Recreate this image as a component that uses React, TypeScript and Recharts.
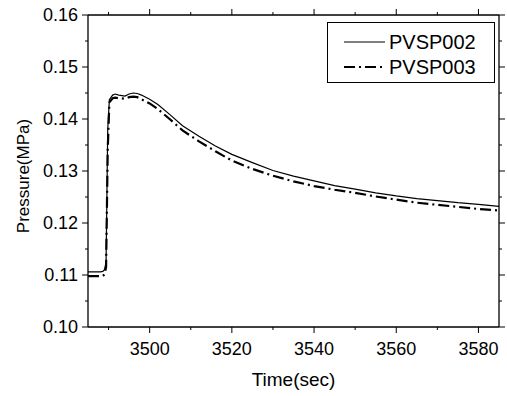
import React from 'react';
import { LineChart, Line, XAxis, YAxis, Legend } from 'recharts';

const seriesNames = ['PVSP002', 'PVSP003'];
const xLabel = 'Time(sec)';
const yLabel = 'Pressure(MPa)';

const times = [3485, 3486, 3487, 3488, 3488.6, 3489, 3489.4, 3489.8, 3490.2, 3491, 3491.6, 3492.5, 3494, 3495, 3496, 3497, 3498, 3500, 3502, 3505, 3508, 3512, 3516, 3520, 3525, 3530, 3535, 3540, 3545, 3550, 3555, 3560, 3565, 3570, 3575, 3580, 3585];
const pvsp002 = [0.1106, 0.1106, 0.1106, 0.1106, 0.1107, 0.1110, 0.1125, 0.1380, 0.1437, 0.1446, 0.1448, 0.1446, 0.1444, 0.1448, 0.1450, 0.1449, 0.1446, 0.1438, 0.1428, 0.1408, 0.1387, 0.1367, 0.1348, 0.1332, 0.1316, 0.1301, 0.1290, 0.1281, 0.1272, 0.1265, 0.1258, 0.1252, 0.1247, 0.1243, 0.1239, 0.1236, 0.1232];
const pvsp003 = [0.1098, 0.1098, 0.1098, 0.1098, 0.1098, 0.1101, 0.1115, 0.1340, 0.1432, 0.1440, 0.1441, 0.1440, 0.1439, 0.1442, 0.1443, 0.1442, 0.1438, 0.1430, 0.1419, 0.1399, 0.1378, 0.1357, 0.1338, 0.1320, 0.1304, 0.1291, 0.1280, 0.1271, 0.1264, 0.1258, 0.1251, 0.1245, 0.1239, 0.1235, 0.1231, 0.1227, 0.1224];

const xTicks = [3490, 3500, 3510, 3520, 3530, 3540, 3550, 3560, 3570, 3580];
const yTicks = [0.1, 0.105, 0.11, 0.115, 0.12, 0.125, 0.13, 0.135, 0.14, 0.145, 0.15, 0.155, 0.16];

const data = times.map((t, i) => ({ t, a: pvsp002[i], b: pvsp003[i] }));

const FONT = 'Arial, "Liberation Sans", sans-serif';
const DASH = '11 4 2 4';

const isMajorX = (v: number) => Math.round(v) % 20 === 0;
const isMajorY = (v: number) => Math.round(v * 1000) % 10 === 0;

const BottomTick = (p: any) => {
  const major = isMajorX(p.payload.value);
  return (
    <g>
      <line x1={p.x} x2={p.x} y1={p.y} y2={p.y + (major ? 6 : 3)} stroke="#000" />
      {major && (
        <text x={p.x} y={p.y + 28} textAnchor="middle" fontSize={18} fontFamily={FONT} fill="#000">
          {p.payload.value}
        </text>
      )}
    </g>
  );
};
const TopTick = (p: any) => {
  const major = isMajorX(p.payload.value);
  return <line x1={p.x} x2={p.x} y1={p.y} y2={p.y - (major ? 6 : 3)} stroke="#000" />;
};
const LeftTick = (p: any) => {
  const major = isMajorY(p.payload.value);
  return (
    <g>
      <line x1={p.x} x2={p.x - (major ? 6 : 3)} y1={p.y} y2={p.y} stroke="#000" />
      {major && (
        <text x={p.x - 10} y={p.y + 6} textAnchor="end" fontSize={18} fontFamily={FONT} fill="#000">
          {p.payload.value.toFixed(2)}
        </text>
      )}
    </g>
  );
};
const RightTick = (p: any) => {
  const major = isMajorY(p.payload.value);
  return <line x1={p.x} x2={p.x + (major ? 6 : 3)} y1={p.y} y2={p.y} stroke="#000" />;
};

const XLabel = (p: any) => {
  const vb = p.viewBox;
  return (
    <text x={vb.x + vb.width / 2} y={vb.y + 59} textAnchor="middle" fontSize={19} fontFamily={FONT} fill="#000">
      {xLabel}
    </text>
  );
};
const YLabel = (p: any) => {
  const vb = p.viewBox;
  const cy = vb.y + vb.height / 2 + 5;
  return (
    <text x={29} y={cy} transform={`rotate(-90, 29, ${cy})`} textAnchor="middle" fontSize={17} fontFamily={FONT} fill="#000">
      {yLabel}
    </text>
  );
};

const LegendBox = () => (
  <div style={{ width: 168, height: 61, border: '1px solid #000', background: '#fff', boxSizing: 'border-box' }}>
    <svg width={166} height={59} style={{ display: 'block' }}>
      {seriesNames.map((n, i) => (
        <g key={n}>
          <line x1={16} x2={57} y1={19 + i * 25} y2={19 + i * 25} stroke="#000" strokeWidth={i === 0 ? 1.2 : 2.2} strokeDasharray={i === 0 ? undefined : DASH} />
          <text x={61} y={19 + i * 25} dominantBaseline="central" fontSize={20} fontFamily={FONT} fill="#000">
            {n}
          </text>
        </g>
      ))}
    </svg>
  </div>
);

export default function App() {
  return (
    <div style={{ position: 'absolute', left: 0, top: 0, background: '#fff' }}>
      <LineChart width={507} height={396} data={data} margin={{ top: 14, right: 7, bottom: 29, left: 28 }}>
        <XAxis
          dataKey="t"
          type="number"
          domain={[3485, 3585]}
          ticks={xTicks}
          interval={0}
          allowDataOverflow
          tickSize={0}
          tickMargin={0}
          tickLine={false}
          tick={<BottomTick />}
          height={40}
          axisLine={{ stroke: '#000', strokeWidth: 1.3 }}
          label={<XLabel />}
        />
        <XAxis
          xAxisId="top"
          orientation="top"
          dataKey="t"
          type="number"
          domain={[3485, 3585]}
          ticks={xTicks}
          interval={0}
          allowDataOverflow
          tickSize={0}
          tickMargin={0}
          tickLine={false}
          tick={<TopTick />}
          height={1}
          axisLine={{ stroke: '#000', strokeWidth: 1.3 }}
        />
        <YAxis
          type="number"
          domain={[0.1, 0.16]}
          ticks={yTicks}
          interval={0}
          allowDataOverflow
          tickSize={0}
          tickMargin={0}
          tickLine={false}
          tick={<LeftTick />}
          width={60}
          axisLine={{ stroke: '#000', strokeWidth: 1.3 }}
          label={<YLabel />}
        />
        <YAxis
          yAxisId="right"
          orientation="right"
          type="number"
          domain={[0.1, 0.16]}
          ticks={yTicks}
          interval={0}
          allowDataOverflow
          tickSize={0}
          tickMargin={0}
          tickLine={false}
          tick={<RightTick />}
          width={1}
          axisLine={{ stroke: '#000', strokeWidth: 1.3 }}
        />
        <Legend
          layout="horizontal"
          verticalAlign="middle"
          align="center"
          content={<LegendBox />}
          wrapperStyle={{ position: 'absolute', left: 327, top: 22, width: 168, height: 61 }}
        />
        <Line name={seriesNames[0]} dataKey="a" type="linear" stroke="#000" strokeWidth={1.2} dot={false} isAnimationActive={false} />
        <Line name={seriesNames[1]} dataKey="b" type="linear" stroke="#000" strokeWidth={2.2} strokeDasharray={DASH} dot={false} isAnimationActive={false} />
      </LineChart>
    </div>
  );
}
